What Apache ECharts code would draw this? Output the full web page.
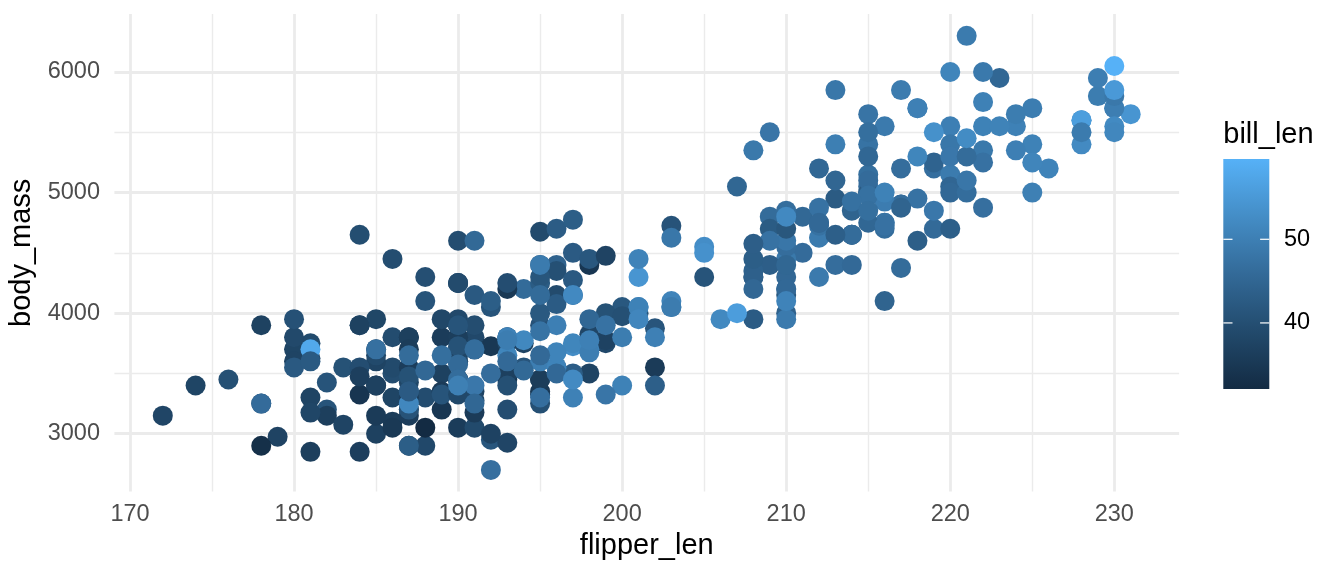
<!DOCTYPE html>
<html>
<head>
<meta charset="utf-8">
<script src="https://cdn.jsdelivr.net/npm/echarts@6/dist/echarts.min.js"></script>
<style>
html,body{margin:0;padding:0;background:#fff;}
#chart{width:1344px;height:576px;}
</style>
</head>
<body>
<div id="chart"></div>
<script>
// ---- data (Palmer penguins, complete rows) ----
var flipper_len = [
181,186,195,193,190,181,195,193,190,186,
180,182,191,198,185,195,197,184,194,174,
180,189,185,180,187,183,187,172,180,178,
178,188,184,195,196,190,180,181,184,182,
195,186,196,185,190,182,179,190,191,186,
188,190,200,187,191,186,193,181,194,185,
195,185,192,184,192,195,188,190,198,190,
190,196,197,190,195,191,184,187,195,189,
196,187,193,191,194,190,189,189,190,202,
205,185,186,187,208,190,196,178,192,192,
203,183,190,193,184,199,190,181,197,198,
191,193,197,191,196,188,199,189,189,187,
198,176,202,186,199,191,195,191,210,190,
197,193,199,187,190,191,200,185,193,193,
187,188,190,192,185,190,184,195,193,187,
201,
211,230,210,218,215,210,211,219,209,215,
214,216,214,213,210,217,210,221,209,222,
218,215,213,215,215,215,216,215,210,220,
222,209,207,230,220,220,213,219,208,208,
208,225,210,216,222,217,210,225,213,215,
210,220,210,225,217,220,208,220,208,224,
208,221,214,231,219,230,214,229,220,223,
216,221,221,217,216,230,209,220,215,223,
212,221,212,224,212,228,218,218,212,230,
218,228,212,224,214,226,216,222,203,225,
219,228,215,228,216,215,210,219,208,209,
216,229,213,230,217,230,217,222,214,
215,222,212,213,
192,196,193,188,197,198,178,197,195,198,
193,194,185,201,190,201,197,181,190,195,
181,191,187,193,195,197,200,200,191,205,
187,201,187,203,195,199,195,210,192,205,
210,187,196,196,196,201,190,212,187,198,
199,201,193,203,187,197,191,203,202,194,
206,189,195,207,202,193,210,198
];
var body_mass = [
3750,3800,3250,3450,3650,3625,4675,3475,4250,3300,
3700,3200,3800,4400,3700,3450,4500,3325,4200,3400,
3600,3800,3950,3800,3800,3550,3200,3150,3950,3250,
3900,3300,3900,3325,4150,3950,3550,3300,4650,3150,
3900,3100,4400,3000,4600,3425,2975,3450,4150,3500,
4300,3450,4050,2900,3700,3550,3800,2850,3750,3150,
4400,3600,4050,2850,2950,3350,4100,3050,4450,3600,
3900,3550,4150,3700,4250,3700,3900,3550,4000,3200,
4700,3800,4200,3350,3550,3800,3500,3950,3600,3550,
4300,3400,4450,3300,4300,3700,4350,2900,4100,3725,
4725,3075,4250,2925,3550,3750,3900,3175,4775,3825,
4600,3200,4275,3900,4075,2900,3775,3350,3325,3150,
3500,3450,3875,3050,4000,3275,4300,3050,4000,3325,
3500,3500,4475,3425,3900,3175,3975,3400,4250,3400,
3475,3050,3725,3000,3650,4250,3475,3450,3750,3700,
4000,
4500,5700,4450,5700,5400,4550,4800,5200,4400,5150,
4650,5550,4650,5850,4200,5850,4150,6300,4800,5350,
5700,5000,4400,5050,5000,5100,4100,5650,4600,5550,
5250,4700,5050,6050,5150,5400,4950,5250,4350,5350,
3950,5700,4300,4750,5550,4900,4200,5400,5100,5300,
4850,5300,4400,5000,4900,5050,4300,5000,4450,5550,
4200,5300,4400,5650,4700,5700,4650,5800,4700,5550,
4750,5000,5100,5200,4700,5800,4600,6000,4750,5950,
4625,5450,4725,5350,4750,5600,4600,5300,4875,5550,
4950,5400,4750,5650,4850,5200,4925,4875,4625,5250,
4850,5600,4975,5500,4725,5500,4700,5500,4575,5500,
5000,5950,4650,5500,4375,5850,4875,6000,4925,
4850,5750,5200,5400,
3500,3900,3650,3525,3725,3950,3250,3750,4150,3700,
3800,3775,3700,4050,3575,4050,3300,3700,3450,4400,
3600,3400,2900,3800,3300,4150,3400,3800,3700,4550,
3200,4300,3350,4100,3600,3900,3850,4800,2700,4500,
3950,3650,3550,3500,3675,4450,3400,4300,3250,3675,
3325,3950,3600,4050,3350,3450,3250,4050,3800,3525,
3950,3650,3650,4000,3400,3775,4100,3775
];
var bill_len = [
39.1,39.5,40.3,36.7,39.3,38.9,39.2,34.1,42,37.8,
37.8,41.1,38.6,34.6,36.6,38.7,42.5,34.4,46,37.8,
37.7,35.9,38.2,38.8,35.3,40.6,40.5,37.9,40.5,39.5,
37.2,39.5,40.9,36.4,39.2,38.8,42.2,37.6,39.8,36.5,
40.8,36,44.1,37,39.6,41.1,37.5,36,42.3,39.6,
40.1,35,42,34.5,41.4,39,40.6,36.5,37.6,35.7,
41.3,37.6,41.1,36.4,41.6,35.5,41.1,35.9,41.8,33.5,
39.7,39.6,45.8,35.5,42.8,40.9,37.2,36.2,42.1,34.6,
42.9,36.7,35.1,37.3,41.3,36.3,36.9,38.3,38.9,35.7,
41.1,34,39.6,36.2,40.8,38.1,40.3,33.1,43.2,35,
41,37.7,37.8,37.9,39.7,38.6,38.2,38.1,43.2,38.1,
45.6,39.7,42.2,39.6,42.7,38.6,37.3,35.7,41.1,36.2,
37.7,40.2,41.4,35.2,40.6,38.8,41.5,39,44.1,38.5,
43.1,36.8,37.5,38.1,41.1,35.6,40.2,37,39.7,40.2,
40.6,32.1,40.7,37.3,39,39.2,36.6,36,37.8,36,
41.5,
46.1,50,48.7,50,47.6,46.5,45.4,46.7,43.3,46.8,
40.9,49,45.5,48.4,45.8,49.3,42,49.2,46.2,48.7,
50.2,45.1,46.5,46.3,42.9,46.1,44.5,47.8,48.2,50,
47.3,42.8,45.1,59.6,49.1,48.4,42.6,44.4,44,48.7,
42.7,49.6,45.3,49.6,50.5,43.6,45.5,50.5,44.9,45.2,
46.6,48.5,45.1,50.1,46.5,45,43.8,45.5,43.2,50.4,
45.3,46.2,45.7,54.3,45.8,49.8,46.2,49.5,43.5,50.7,
47.7,46.4,48.2,46.5,46.4,48.6,47.5,51.1,45.2,45.2,
49.1,52.5,47.4,50,44.9,50.8,43.4,51.3,47.5,52.1,
47.5,52.2,45.5,49.5,44.5,50.8,49.4,46.9,48.4,51.1,
48.5,55.9,47.2,49.1,47.3,46.8,41.7,53.4,43.3,48.1,
50.5,49.8,43.5,51.5,46.2,55.1,44.5,48.8,47.2,
46.8,50.4,45.2,49.9,
46.5,50,51.3,45.4,52.7,45.2,46.1,51.3,46,51.3,
46.6,51.7,47,52,45.9,50.5,50.3,58,46.4,49.2,
42.4,48.5,43.2,50.6,46.7,52,50.5,49.5,46.4,52.8,
40.9,54.2,42.5,51,49.7,47.5,47.6,52,46.9,53.5,
49,46.2,50.9,45.5,50.9,50.8,50.1,49,51.5,49.8,
48.1,51.4,45.7,50.7,42.5,52.2,45.2,49.3,50.2,45.6,
51.9,46.8,45.7,55.8,43.5,49.6,50.8,50.2
];
var xTicks = [170,180,190,200,210,220,230];
var xMinorTicks = [175,185,195,205,215,225];
var yTicks = [3000,4000,5000,6000];
var yMinorTicks = [3500,4500,5500];
var legendTicks = [40,50];
// ggplot default gradient (#132B43 -> #56B1F7, Lab-interpolated stops)
var gradientColors = ['#132B43','#224A6C','#336A98','#448DC6','#56B1F7'];

// ---- build ----
function ext(a){return [Math.min.apply(null,a),Math.max.apply(null,a)];}
var xe = ext(flipper_len), ye = ext(body_mass), ce = ext(bill_len);
var xMin = xe[0]-0.05*(xe[1]-xe[0]), xMax = xe[1]+0.05*(xe[1]-xe[0]);
var yMin = ye[0]-0.05*(ye[1]-ye[0]), yMax = ye[1]+0.05*(ye[1]-ye[0]);
var pts = flipper_len.map(function(f,i){return [f, body_mass[i], bill_len[i]];});

var FONT = "'Liberation Sans', Arial, Helvetica, sans-serif";
var chart = echarts.init(document.getElementById('chart'), null, {renderer:'canvas'});

// legend geometry
var barX = 1223.3, barY = 159, barW = 46, barH = 230;
function legY(v){ return barY + barH - (v - ce[0])/(ce[1]-ce[0])*barH; }
var stops = gradientColors.map(function(c,i){return {offset: 1 - i/(gradientColors.length-1), color:c};}).reverse();
var graphics = [
  {type:'text', left: barX, top: 120, style:{text:'bill_len', font:'29px '+FONT, fill:'#000'}},
  {type:'rect', shape:{x:barX, y:barY, width:barW, height:barH},
   style:{fill:new echarts.graphic.LinearGradient(0,0,0,1,stops)}}
];
legendTicks.forEach(function(v){
  var y = legY(v);
  graphics.push({type:'line', shape:{x1:barX, y1:y, x2:barX+9.2, y2:y}, style:{stroke:'#fff', lineWidth:1.2}});
  graphics.push({type:'line', shape:{x1:barX+barW-9.2, y1:y, x2:barX+barW, y2:y}, style:{stroke:'#fff', lineWidth:1.2}});
  graphics.push({type:'text', x:1284, y:y, style:{text:String(v), font:'23.5px '+FONT, fill:'#000', verticalAlign:'middle', align:'left'}});
});
function plain(v){ return String(v); }

var option = {
  animation:false,
  backgroundColor:'#fff',
  grid:{left:114.4, right:164.9, top:14.1, bottom:84.4, containLabel:false, outerBoundsMode:'none'},
  xAxis:[{
    type:'value', min:xMin, max:xMax, position:'bottom',
    name:'flipper_len', nameLocation:'middle', nameGap:39,
    nameTextStyle:{fontSize:29, color:'#000', fontFamily:FONT},
    axisLine:{show:false}, axisTick:{show:false, customValues:xTicks},
    axisLabel:{customValues:xTicks, fontSize:23.5, color:'#4D4D4D', fontFamily:FONT, margin:11, formatter:plain},
    splitLine:{show:true, lineStyle:{color:'#EBEBEB', width:2.8}}
  },{
    type:'value', min:xMin, max:xMax, position:'top', gridIndex:0,
    axisLine:{show:false}, axisTick:{show:false, customValues:xMinorTicks},
    axisLabel:{show:false, customValues:xMinorTicks},
    splitLine:{show:true, lineStyle:{color:'#EBEBEB', width:1.4}}
  }],
  yAxis:[{
    type:'value', min:yMin, max:yMax, position:'left',
    name:'body_mass', nameLocation:'middle', nameGap:56, nameRotate:90,
    nameTextStyle:{fontSize:29, color:'#000', fontFamily:FONT},
    axisLine:{show:false}, axisTick:{show:false, customValues:yTicks},
    axisLabel:{customValues:yTicks, fontSize:23.5, color:'#4D4D4D', fontFamily:FONT, margin:14.4, formatter:plain},
    splitLine:{show:true, lineStyle:{color:'#EBEBEB', width:2.8}}
  },{
    type:'value', min:yMin, max:yMax, position:'right', gridIndex:0,
    axisLine:{show:false}, axisTick:{show:false, customValues:yMinorTicks},
    axisLabel:{show:false, customValues:yMinorTicks},
    splitLine:{show:true, lineStyle:{color:'#EBEBEB', width:1.4}}
  }],
  visualMap:{show:false, type:'continuous', dimension:2, min:ce[0], max:ce[1], seriesIndex:0,
    inRange:{color:gradientColors}},
  series:[{
    type:'scatter', xAxisIndex:0, yAxisIndex:0, data:pts, symbolSize:20,
    itemStyle:{opacity:1}, emphasis:{disabled:true}, silent:true
  }],
  graphic:graphics
};
chart.setOption(option);
</script>
</body>
</html>
